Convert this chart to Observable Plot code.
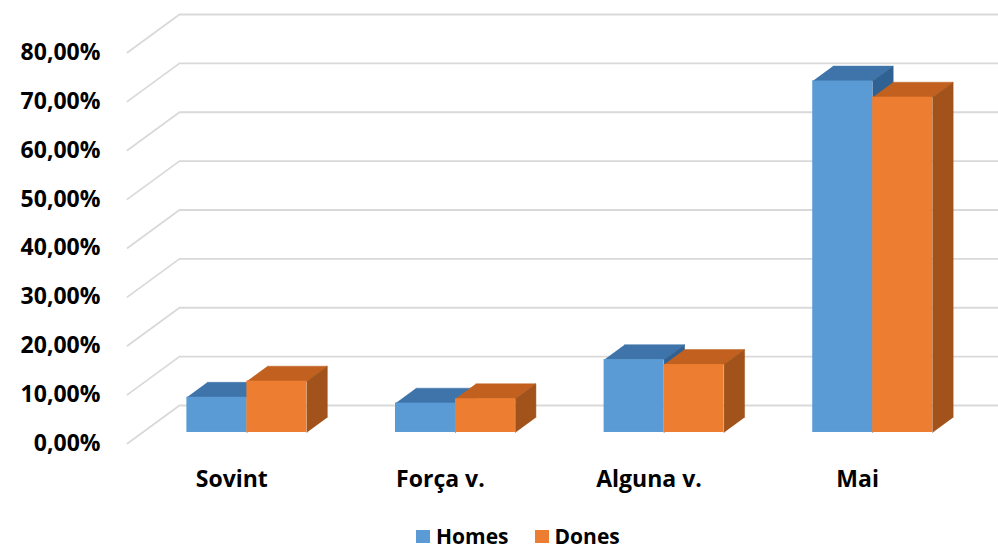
<!DOCTYPE html>
<html>
<head>
<meta charset="utf-8">
<script src="https://cdn.jsdelivr.net/npm/d3@7"></script>
<script src="https://cdn.jsdelivr.net/npm/@observablehq/plot@0.6"></script>
<style>
  html, body { margin: 0; padding: 0; background: #fff; overflow: hidden; }
  #chart { width: 998px; height: 551px; position: relative; font-family: "Open Sans", Lato, sans-serif; }
  .legend { position: absolute; left: 416px; top: 522px; height: 28px; display: flex; align-items: center; font-weight: 700; font-size: 21px; color: #000; line-height: 28px; }
  .legend .sw { display: inline-block; width: 14px; height: 13px; margin-right: 6px; }
  .legend .item { display: flex; align-items: center; margin-right: 26px; }
</style>
</head>
<body>
<div id="chart"></div>
<script>
// ---- data ----
const categories = ["Sovint", "Força v.", "Alguna v.", "Mai"];
const seriesNames = ["Homes", "Dones"];
const homes = [7.2, 6.0, 14.9, 71.9];
const dones = [10.5, 6.9, 13.9, 68.6];
const yTicks = [0, 10, 20, 30, 40, 50, 60, 70, 80];

// ---- styling / geometry constants ----
const frontColors = ["#5B9BD5", "#ED7D31"];
const topColors = ["#3F74AA", "#C2601F"];
const sideColors = ["#2F6193", "#A1531B"];
const DX = 0.249;   // full depth of the floor, in category units
const DY = 7.775;   // full depth of the floor, in percent units
const F = 0.29;     // depth fraction of bar front face
const B = 0.684;    // depth fraction of bar back face
const W = 0.2875;   // bar width in category units

const seriesValues = [homes, dones];

// gridlines (oblique)
const grid = [];
yTicks.forEach(v => {
  grid.push({id: v, x: -0.5, y: v});
  grid.push({id: v, x: -0.5 + DX, y: v + DY});
  grid.push({id: v, x: categories.length - 0.5 + DX, y: v + DY});
});

const marks = [
  Plot.line(grid, {x: "x", y: "y", z: "id", stroke: "#d9d9d9", strokeWidth: 1.8})
];

seriesValues.forEach((vals, s) => {
  const fronts = [], tops = [], sides = [];
  vals.forEach((v, i) => {
    const x1 = i + F * DX - W + s * W;
    const x2 = x1 + W;
    const y0 = F * DY;
    const yt = v + F * DY;
    const ddx = (B - F) * DX, ddy = (B - F) * DY;
    const id = categories[i];
    fronts.push({x1, x2, y1: y0, y2: yt});
    tops.push({id, x: x1, y: yt}, {id, x: x2, y: yt}, {id, x: x2 + ddx, y: yt + ddy}, {id, x: x1 + ddx, y: yt + ddy});
    sides.push({id, x: x2, y: y0}, {id, x: x2, y: yt}, {id, x: x2 + ddx, y: yt + ddy}, {id, x: x2 + ddx, y: y0 + ddy});
  });
  marks.push(
    Plot.line(tops, {x: "x", y: "y", z: "id", fill: topColors[s], stroke: topColors[s], strokeWidth: 0.5}),
    Plot.line(sides, {x: "x", y: "y", z: "id", fill: sideColors[s], stroke: sideColors[s], strokeWidth: 0.5}),
    Plot.rect(fronts, {x1: "x1", x2: "x2", y1: "y1", y2: "y2", fill: frontColors[s]})
  );
});

marks.push(
  Plot.axisY({ticks: yTicks, tickSize: 0, tickPadding: 27, tickFormat: d => d.toFixed(2).replace(".", ",") + "%", label: null}),
  Plot.axisX({ticks: categories.map((c, i) => i), tickSize: 0, tickPadding: 27, tickFormat: i => categories[i], label: null})
);

const plot = Plot.plot({
  width: 998,
  height: 510,
  marginLeft: 127,
  marginRight: 36.55,
  marginTop: 52,
  marginBottom: 67,
  x: {type: "linear", domain: [-0.5, categories.length - 0.5]},
  y: {type: "linear", domain: [0, 80]},
  style: {fontFamily: "'Open Sans', Lato, sans-serif", fontSize: "23px", fontWeight: "700", color: "#000", background: "#fff", overflow: "hidden"},
  marks
});

const chart = document.getElementById("chart");
chart.appendChild(plot);

const legend = document.createElement("div");
legend.className = "legend";
seriesNames.forEach((n, s) => {
  const item = document.createElement("span");
  item.className = "item";
  const sw = document.createElement("span");
  sw.className = "sw";
  sw.style.background = frontColors[s];
  item.appendChild(sw);
  item.appendChild(document.createTextNode(n));
  legend.appendChild(item);
});
chart.appendChild(legend);
</script>
</body>
</html>
